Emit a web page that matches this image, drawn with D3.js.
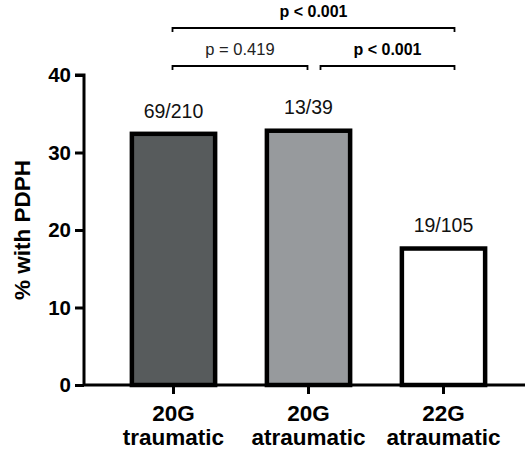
<!DOCTYPE html>
<html>
<head>
<meta charset="utf-8">
<script src="https://cdn.jsdelivr.net/npm/d3@7"></script>
<style>
  body { margin: 0; background: #fff; }
  svg { font-family: "Liberation Sans", Arial, sans-serif; }
</style>
</head>
<body>
<svg id="chart" width="525" height="453"></svg>
<script>
/* DATA */
const groups = ["20G traumatic", "20G atraumatic", "22G atraumatic"];
const gauge = ["20G", "20G", "22G"];
const needle = ["traumatic", "atraumatic", "atraumatic"];
const pct = [32.7, 33.1, 17.9];
const counts = ["69/210", "13/39", "19/105"];
const fills = ["#575b5c", "#979a9d", "#ffffff"];
const yTicks = [0, 10, 20, 30, 40];
// comparisons: [from, to, label, bold]
const compFrom = [0, 1, 0];
const compTo = [1, 2, 2];
const compText = ["p = 0.419", "p < 0.001", "p < 0.001"];
const compBold = [false, true, true];

/* LAYOUT */
const width = 525, height = 453;
const axisLeft = 84, axisBottom = 385, axisTop = 75;
const sw = 4.5;

const svg = d3.select("#chart");

const x = d3.scaleBand()
  .domain(groups)
  .range([106, 511])
  .paddingInner(0.35)
  .paddingOuter(0.175);

const y = d3.scaleLinear()
  .domain([0, 40])
  .range([axisBottom, axisTop]);

// bars (stroke kept inside the band so outer edge = value)
svg.selectAll("rect.bar")
  .data(groups)
  .join("rect")
  .attr("class", "bar")
  .attr("x", d => x(d) + sw / 2)
  .attr("y", (d, i) => y(pct[i]) + sw / 2)
  .attr("width", x.bandwidth() - sw)
  .attr("height", (d, i) => y(0) - y(pct[i]) - sw / 2)
  .attr("fill", (d, i) => fills[i])
  .attr("stroke", "#000")
  .attr("stroke-width", sw);

// count labels
svg.selectAll("text.count")
  .data(groups)
  .join("text")
  .attr("class", "count")
  .attr("x", d => x(d) + x.bandwidth() / 2)
  .attr("y", (d, i) => y(pct[i]) - 14)
  .attr("text-anchor", "middle")
  .attr("font-size", 19.5)
  .attr("fill", "#111")
  .text((d, i) => counts[i]);

// y axis
const yAxisG = svg.append("g")
  .attr("transform", `translate(${axisLeft},0)`)
  .call(d3.axisLeft(y).tickValues(yTicks).tickSize(9).tickPadding(4));
yAxisG.select(".domain").attr("stroke-width", 3).attr("d", `M-9,${axisTop}H0V${axisBottom}`);
yAxisG.selectAll(".tick line").attr("stroke-width", 3);
yAxisG.selectAll(".tick text")
  .attr("font-size", 20.5)
  .attr("font-weight", "bold")
  .attr("fill", "#000")
  .attr("font-family", "Liberation Sans, Arial, sans-serif");

// x axis
const xAxisG = svg.append("g")
  .attr("transform", `translate(0,${axisBottom})`)
  .call(d3.axisBottom(x).tickSize(9).tickFormat(""));
xAxisG.select(".domain").attr("stroke-width", 3).attr("d", `M${axisLeft},0H${width}`);
xAxisG.selectAll(".tick line").attr("stroke-width", 3);

// x labels (two lines)
const xl = svg.selectAll("text.xlab")
  .data(groups)
  .join("text")
  .attr("class", "xlab")
  .attr("text-anchor", "middle")
  .attr("font-size", 22.5)
  .attr("font-weight", "bold")
  .attr("fill", "#000");
xl.append("tspan")
  .attr("x", d => x(d) + x.bandwidth() / 2)
  .attr("y", 421)
  .text((d, i) => gauge[i]);
xl.append("tspan")
  .attr("x", d => x(d) + x.bandwidth() / 2)
  .attr("y", 445)
  .text((d, i) => needle[i]);

// y axis title
svg.append("text")
  .attr("transform", `translate(30,${(axisTop + axisBottom) / 2}) rotate(-90)`)
  .attr("text-anchor", "middle")
  .attr("font-size", 22.5)
  .attr("font-weight", "bold")
  .attr("fill", "#000")
  .text("% with PDPH");

// significance brackets
const mid = d => x(d) + x.bandwidth() / 2;
const brY = [66, 66, 28];
compFrom.forEach((f, i) => {
  const t = compTo[i];
  const x0 = f === 0 ? mid(groups[f]) - 1 : mid(groups[f]) + 12;
  const x1 = t === 2 ? mid(groups[t]) + 11 : mid(groups[t]) - 1;
  const yy = brY[i];
  svg.append("path")
    .attr("d", `M${x0},${yy + 4}V${yy}H${x1}V${yy + 4}`)
    .attr("fill", "none")
    .attr("stroke", "#000")
    .attr("stroke-width", 1.8);
  svg.append("text")
    .attr("x", (x0 + x1) / 2)
    .attr("y", yy - 11)
    .attr("text-anchor", "middle")
    .attr("font-size", compBold[i] ? 16 : 16.5)
    .attr("font-weight", compBold[i] ? "bold" : "normal")
    .attr("fill", compBold[i] ? "#000" : "#222")
    .text(compText[i]);
});
</script>
</body>
</html>
